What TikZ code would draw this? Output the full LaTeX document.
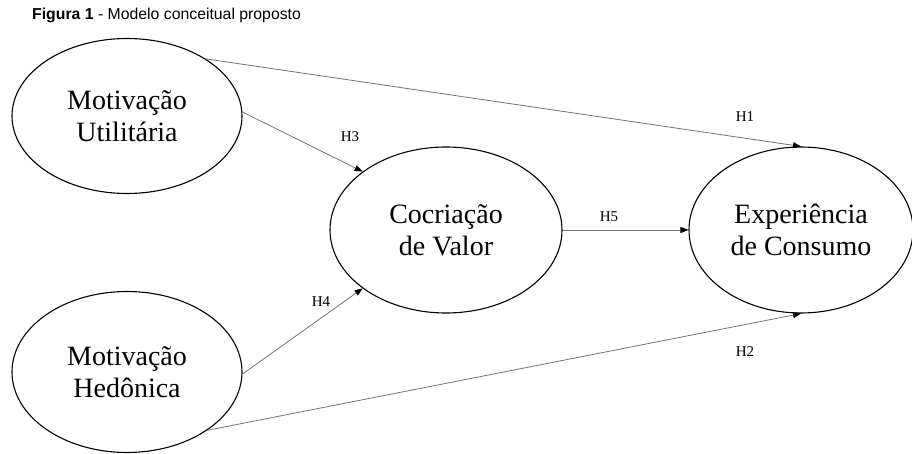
\documentclass[tikz,border=0pt]{standalone}
\usepackage{fontspec}
\setmainfont{Liberation Serif}
\newfontfamily\titlefont{Liberation Sans}
\usetikzlibrary{arrows.meta,shapes.geometric}
\tikzset{
  construct/.style={ellipse,draw=black,line width=1.1pt,inner sep=0pt,align=center,
    font=\fontsize{28}{32}\selectfont},
  hyp/.style={draw=black!55,line width=0.8pt,-{Triangle[length=8pt,width=6pt,color=black]}},
  hlabel/.style={font=\fontsize{15}{17}\selectfont,inner sep=0pt}
}
\begin{document}
\begin{tikzpicture}[x=1pt,y=-1pt]
\useasboundingbox (0,0) rectangle (912,454);
\node[anchor=base west,inner sep=0pt,font=\titlefont\fontsize{15.8}{18}\selectfont] (title) at (32,20) {\textbf{Figura 1} - Modelo conceitual proposto};
\node[construct,minimum width=230pt,minimum height=155pt] (mu) at (127,116) {Motivação\\Utilitária};
\node[construct,minimum width=230pt,minimum height=161pt] (mh) at (127,372) {Motivação\\Hedônica};
\node[construct,minimum width=232pt,minimum height=166pt] (cv) at (446,230) {Cocriação\\de Valor};
\node[construct,minimum width=224pt,minimum height=166pt] (ec) at (801,230) {Experiência\\de Consumo};
\draw[hyp] (mu.36) -- (ec.north);
\draw[hyp] (mu.2) -- (cv.145);
\draw[hyp] (mh.-1) -- (cv.215);
\draw[hyp] (cv.east) -- (ec.west);
\draw[hyp] (mh.-36) -- (ec.south);
\node[hlabel] (h1) at (745,117) {H1};
\node[hlabel] (h2) at (745,352) {H2};
\node[hlabel] (h3) at (350,137) {H3};
\node[hlabel] (h4) at (321,302) {H4};
\node[hlabel] (h5) at (609,217) {H5};
\end{tikzpicture}
\end{document}
